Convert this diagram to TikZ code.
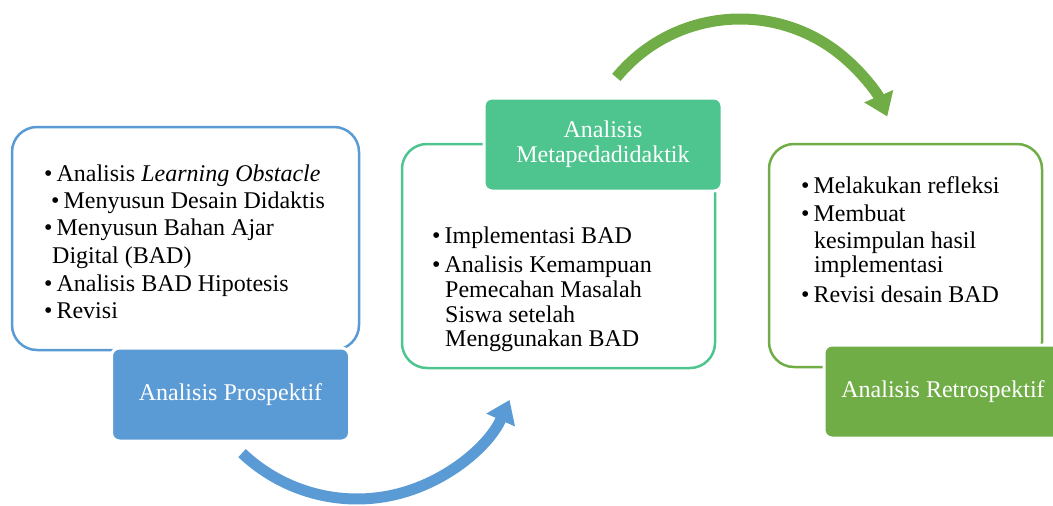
\documentclass[tikz,border=0pt]{standalone}
\usepackage{fontspec}
\setmainfont{Liberation Serif}
\definecolor{ProsBlue}{RGB}{91, 155, 213}
\definecolor{MetaGreen}{RGB}{78, 197, 143}
\definecolor{RetroGreen}{RGB}{112, 173, 71}
\usetikzlibrary{arrows.meta}
\newcommand{\itembul}{\textbullet\hspace{4pt}}

\begin{document}
\begin{tikzpicture}[x=1pt, y=1pt, font=\fontsize{24}{25}\selectfont,
    frame/.style={line width=2.5pt, rounded corners=25pt},
    stage/.style={draw=white, line width=3pt, rounded corners=8pt, text=white, align=center,
      inner sep=0pt, minimum width=238pt, minimum height=93pt},
    item/.style={anchor=base west, inner sep=0pt},
    cyclearrow/.style={line width=11pt, -{Triangle[length=22pt, width=30pt]}}]
    \useasboundingbox (0,0) rectangle (1053,-506);
    \clip (0,0) rectangle (1053,-506);

    % Frames
    \draw[frame, ProsBlue] (12,-127) rectangle (359,-350);
    \draw[frame, MetaGreen] (402,-144) rectangle (715,-368);
    \draw[frame, RetroGreen] (769,-144) rectangle (1042,-367);

    % Stage boxes
    \node[stage, fill=ProsBlue] (prospektif) at (230.5,-394.5) {Analisis Prospektif};
    \node[stage, fill=MetaGreen] (metapedadidaktik) at (603,-144.5) {Analisis\\Metapedadidaktik};
    \node[stage, fill=RetroGreen] (retrospektif) at (943,-391.5) {Analisis Retrospektif};

    % Prospektif items
    \node[item] (pros1) at (44,-181) {\itembul Analisis \textit{Learning Obstacle}};
    \node[item] (pros2) at (51,-208) {\itembul Menyusun Desain Didaktis};
    \node[item] (pros3) at (44,-235) {\itembul Menyusun Bahan Ajar};
    \node[item] (pros3b) at (52,-263) {Digital (BAD)};
    \node[item] (pros4) at (44,-291) {\itembul Analisis BAD Hipotesis};
    \node[item] (pros5) at (44,-318) {\itembul Revisi};

    % Metapedadidaktik items
    \node[item] (meta1) at (432,-243) {\itembul Implementasi BAD};
    \node[item] (meta2) at (432,-272) {\itembul Analisis Kemampuan};
    \node[item] (meta2b) at (445,-297) {Pemecahan Masalah};
    \node[item] (meta2c) at (445,-322) {Siswa setelah};
    \node[item] (meta2d) at (445,-346) {Menggunakan BAD};

    % Retrospektif items
    \node[item] (retro1) at (801,-193) {\itembul Melakukan refleksi};
    \node[item] (retro2) at (801,-221) {\itembul Membuat};
    \node[item] (retro2b) at (814,-248) {kesimpulan hasil};
    \node[item] (retro2c) at (814,-272) {implementasi};
    \node[item] (retro3) at (801,-302) {\itembul Revisi desain BAD};

    % Cycle arrows
    \draw[cyclearrow, ProsBlue] (357,-332) ++(226.5:167) arc[start angle=226.5, end angle=336, radius=167];
    \draw[cyclearrow, RetroGreen] (740,-179) ++(140.6:160) arc[start angle=140.6, end angle=23, radius=160];
\end{tikzpicture}
\end{document}
